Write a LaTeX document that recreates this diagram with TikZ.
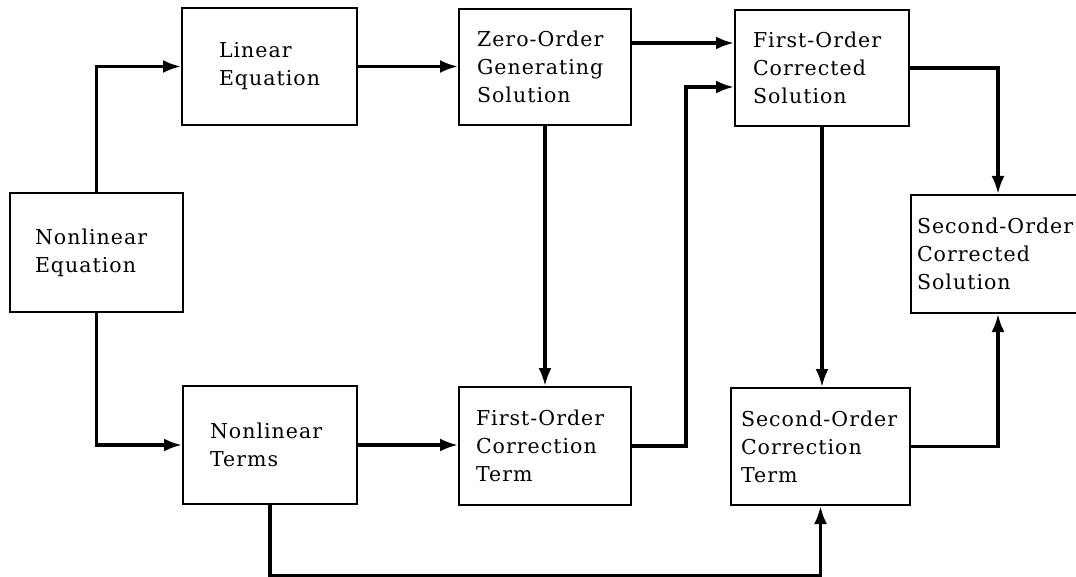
\documentclass[tikz,border=0pt]{standalone}
\usepackage{fontspec}
\setmainfont{DejaVu Serif}[LetterSpace=5]
\usetikzlibrary{arrows.meta}
\begin{document}
\begin{tikzpicture}[x=1pt,y=-1pt,
  box/.style={draw, line width=2pt, rectangle, align=left, inner ysep=2pt,
    font=\fontsize{20.5}{28}\selectfont},
  arr/.style={line width=3.2pt, -{Latex[length=18pt,width=13pt]}}]
\useasboundingbox (0,0) rectangle (1076,577);
% boxes
\node[box, minimum width=173pt, minimum height=119pt, inner xsep=25pt, text width=123pt] (NE) at (96.5,252.5) {Nonlinear\\Equation};
\node[box, minimum width=175pt, minimum height=117pt, inner xsep=37pt, text width=101pt] (LE) at (269.5,66.5) {Linear\\Equation};
\node[box, minimum width=174pt, minimum height=118pt, inner xsep=27pt, text width=120pt] (NT) at (270,445) {Nonlinear\\Terms};
\node[box, minimum width=172pt, minimum height=116pt, inner xsep=18pt, text width=136pt] (ZO) at (545,67) {Zero-Order\\Generating\\Solution};
\node[box, minimum width=172pt, minimum height=118pt, inner xsep=17pt, text width=138pt] (FT) at (545,446) {First-Order\\Correction\\Term};
\node[box, minimum width=174pt, minimum height=116pt, inner xsep=18pt, text width=138pt] (FC) at (822,68) {First-Order\\Corrected\\Solution};
\node[box, minimum width=179pt, minimum height=117pt, inner xsep=10pt, text width=159pt] (ST) at (820.5,446.5) {Second-Order\\Correction\\Term};
\node[box, minimum width=174pt, minimum height=118pt, inner xsep=6pt, text width=162pt] (SC) at (998,254) {Second-Order\\Corrected\\Solution};
% connectors
\draw[arr] (NE.north) |- (LE.west);
\draw[arr] (NE.south) |- (NT.west);
\draw[arr] (LE.east) -- (LE.east -| ZO.west);
\draw[arr] (NT.east) -- (NT.east -| FT.west);
\draw[arr] ([yshift=24pt]ZO.east) coordinate (za) -- (za -| FC.west);
\draw[arr] (ZO.south) -- (ZO.south |- FT.north);
\draw[arr] (FT.east) -- ++(54,0) |- ([yshift=-19pt]FC.west);
\draw[arr] (FC.south) -- (FC.south |- ST.north);
\draw[arr] (FC.east) -| (SC.north);
\draw[arr] (ST.east) -| (SC.south);
\draw[arr] (NT.south) -- ++(0,71) -| (ST.south);
\end{tikzpicture}
\end{document}
